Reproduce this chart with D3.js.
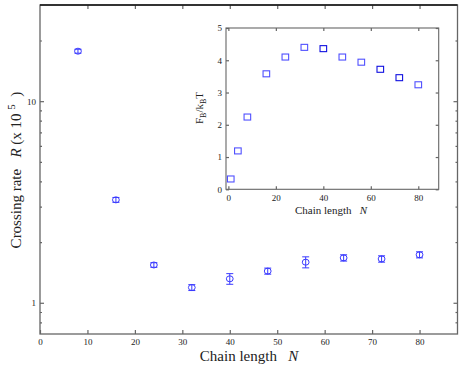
<!DOCTYPE html>
<html>
<head>
<meta charset="utf-8">
<script src="https://cdn.jsdelivr.net/npm/d3@7"></script>
<style>
  body { margin: 0; background: #fff; }
  text { font-family: "Liberation Serif", "DejaVu Serif", "Times New Roman", serif; fill: #222; }
</style>
</head>
<body>
<script>
// main plot: crossing rate vs chain length
var chainN = [8, 16, 24, 32, 40, 48, 56, 64, 72, 80];
var rate = [17.7, 3.24, 1.54, 1.19, 1.315, 1.436, 1.59, 1.67, 1.65, 1.73];
var rateErr = [0.4, 0.09, 0.04, 0.04, 0.08, 0.05, 0.1, 0.06, 0.06, 0.06];
var mainXTicks = [0, 10, 20, 30, 40, 50, 60, 70, 80];
var mainYMajor = [1, 10];
var mainYMinor = [0.8, 0.9, 2, 3, 4, 5, 6, 7, 8, 9, 20];

// inset: barrier vs chain length
var insetN = [1, 4, 8, 16, 24, 32, 40, 48, 56, 64, 72, 80];
var barrier = [0.32, 1.19, 2.24, 3.58, 4.10, 4.40, 4.36, 4.10, 3.94, 3.72, 3.46, 3.24];
var insetXTicks = [0, 20, 40, 60, 80];
var insetYTicks = [0, 1, 2, 3, 4, 5];

var W = 463, H = 367;
var blue = "#3a3aff";
var axisCol = "#666";

var svg = d3.select("body").append("svg")
  .attr("width", W).attr("height", H);

// ---- main plot ----
var m = {left: 40, right: 457.5, top: 5, bottom: 334};
var x = d3.scaleLinear().domain([0, 88]).range([m.left, m.right]);
var y = d3.scaleLog().domain([0.7, 30]).range([m.bottom, m.top]);

function styleAxis(g) {
  g.select(".domain").remove();
  g.attr("font-family", null);
  g.selectAll(".tick line").attr("stroke", axisCol).attr("stroke-width", 1.2);
  g.selectAll("text").style("font-size", "9px").attr("fill", "#222");
}

svg.append("g").attr("transform", "translate(0," + m.bottom + ")")
  .call(d3.axisBottom(x).tickValues(mainXTicks).tickSizeInner(-4).tickSizeOuter(0).tickPadding(5).tickFormat(d3.format("d")))
  .call(styleAxis);
svg.append("g").attr("transform", "translate(0," + m.top + ")")
  .call(d3.axisTop(x).tickValues(mainXTicks.slice(1)).tickSizeInner(-4).tickSizeOuter(0).tickFormat(""))
  .call(styleAxis);
svg.append("g").attr("transform", "translate(" + m.left + ",0)")
  .call(d3.axisLeft(y).tickValues(mainYMajor).tickSizeInner(-4).tickSizeOuter(0).tickPadding(4).tickFormat(d3.format("d")))
  .call(styleAxis);
svg.append("g").attr("transform", "translate(" + m.left + ",0)")
  .call(d3.axisLeft(y).tickValues(mainYMinor).tickSizeInner(-2).tickSizeOuter(0).tickFormat(""))
  .call(styleAxis);
svg.append("g").attr("transform", "translate(" + m.right + ",0)")
  .call(d3.axisRight(y).tickValues(mainYMajor).tickSizeInner(-4).tickSizeOuter(0).tickFormat(""))
  .call(styleAxis);
svg.append("g").attr("transform", "translate(" + m.right + ",0)")
  .call(d3.axisRight(y).tickValues(mainYMinor).tickSizeInner(-2).tickSizeOuter(0).tickFormat(""))
  .call(styleAxis);

svg.append("rect")
  .attr("x", m.left).attr("y", m.top)
  .attr("width", m.right - m.left).attr("height", m.bottom - m.top)
  .attr("fill", "none").attr("stroke", axisCol).attr("stroke-width", 1.3);
svg.append("line")
  .attr("x1", m.left).attr("x2", m.right).attr("y1", m.top).attr("y2", m.top)
  .attr("stroke", "#111").attr("stroke-width", 1.3);

// error bars + circles
var pts = chainN.map(function(d, i) { return {x: d, y: rate[i], e: rateErr[i]}; });
var eb = svg.append("g").attr("stroke", blue).attr("stroke-width", 1).attr("fill", "none");
pts.forEach(function(d) {
  var cx = x(d.x), y0 = y(d.y + d.e), y1 = y(d.y - d.e);
  eb.append("line").attr("x1", cx).attr("x2", cx).attr("y1", y0).attr("y2", y1);
  eb.append("line").attr("x1", cx - 3.5).attr("x2", cx + 3.5).attr("y1", y0).attr("y2", y0);
  eb.append("line").attr("x1", cx - 3.5).attr("x2", cx + 3.5).attr("y1", y1).attr("y2", y1);
});
svg.append("g").selectAll("ellipse").data(pts).enter().append("ellipse")
  .attr("cx", function(d) { return x(d.x); })
  .attr("cy", function(d) { return y(d.y); })
  .attr("rx", 3.4).attr("ry", 3)
  .attr("fill", "none").attr("stroke", blue).attr("stroke-width", 1);

// main labels
var xl = svg.append("text").attr("x", 249).attr("y", 361)
  .attr("text-anchor", "middle").style("font-size", "15px");
xl.append("tspan").text("Chain length\u00a0\u00a0\u00a0");
xl.append("tspan").style("font-style", "italic").text("N");

var yl = svg.append("text")
  .attr("transform", "translate(21,170) rotate(-90)")
  .attr("text-anchor", "middle").style("font-size", "15px");
yl.append("tspan").text("Crossing rate\u00a0\u00a0\u00a0");
yl.append("tspan").style("font-style", "italic").text("R");
yl.append("tspan").text("\u00a0(x 10\u00a0");
yl.append("tspan").attr("dy", -6).style("font-size", "11px").text("5");
yl.append("tspan").attr("dy", 6).text("\u00a0\u00a0)");

// ---- inset ----
var n = {left: 226, right: 438.7, top: 28, bottom: 189.3};
var xi = d3.scaleLinear().domain([-1, 88.6]).range([n.left, n.right]);
var yi = d3.scaleLinear().domain([0, 5]).range([n.bottom, n.top]);

svg.append("rect")
  .attr("x", n.left).attr("y", n.top)
  .attr("width", n.right - n.left).attr("height", n.bottom - n.top)
  .attr("fill", "#fff").attr("stroke", axisCol).attr("stroke-width", 1.1);

svg.append("g").attr("transform", "translate(0," + n.bottom + ")")
  .call(d3.axisBottom(xi).tickValues(insetXTicks).tickSizeInner(-3).tickSizeOuter(0).tickPadding(5).tickFormat(d3.format("d")))
  .call(styleAxis);
svg.append("g").attr("transform", "translate(0," + n.top + ")")
  .call(d3.axisTop(xi).tickValues(insetXTicks).tickSizeInner(-3).tickSizeOuter(0).tickFormat(""))
  .call(styleAxis);
svg.append("g").attr("transform", "translate(" + n.left + ",0)")
  .call(d3.axisLeft(yi).tickValues(insetYTicks).tickSizeInner(-3).tickSizeOuter(0).tickPadding(4).tickFormat(d3.format("d")))
  .call(styleAxis);
svg.append("g").attr("transform", "translate(" + n.right + ",0)")
  .call(d3.axisRight(yi).tickValues(insetYTicks).tickSizeInner(-3).tickSizeOuter(0).tickFormat(""))
  .call(styleAxis);

svg.append("g").selectAll("rect").data(insetN).enter().append("rect")
  .attr("x", function(d) { return xi(d) - 3.3; })
  .attr("y", function(d, i) { return yi(barrier[i]) - 3; })
  .attr("width", 6.6).attr("height", 6)
  .attr("fill", "none").attr("stroke", function(d) { return (d === 40 || d === 64 || d === 72) ? "#1010e0" : "#5050ff"; })
  .attr("stroke-width", 1.1);

var ixl = svg.append("text").attr("x", 331).attr("y", 214)
  .attr("text-anchor", "middle").style("font-size", "11px");
ixl.append("tspan").text("Chain length\u00a0\u00a0\u00a0");
ixl.append("tspan").style("font-style", "italic").text("N");

var iyl = svg.append("text")
  .attr("transform", "translate(203,108) rotate(-90)")
  .attr("text-anchor", "middle").style("font-size", "11px");
iyl.append("tspan").text("F");
iyl.append("tspan").attr("dy", 3).style("font-size", "8px").text("B");
iyl.append("tspan").attr("dy", -3).text("/k");
iyl.append("tspan").attr("dy", 3).style("font-size", "8px").text("B");
iyl.append("tspan").attr("dy", -3).text("T");
</script>
</body>
</html>
